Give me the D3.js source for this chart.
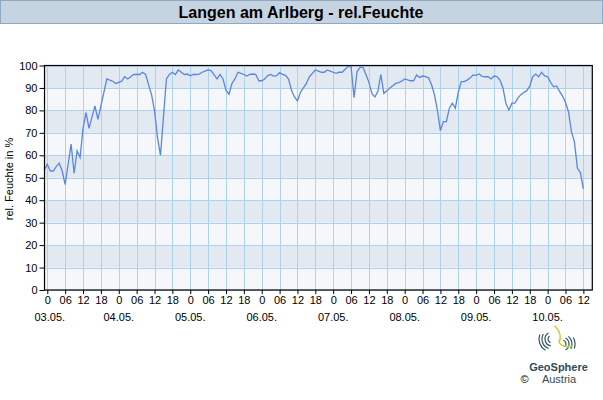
<!DOCTYPE html>
<html><head><meta charset="utf-8">
<script src="https://cdn.jsdelivr.net/npm/d3@7"></script>
<style>body{margin:0;background:#fff;}svg{display:block;font-family:Arial,"Liberation Sans",sans-serif;}</style>
</head><body>
<svg id="c" width="603" height="400"></svg>
<script>
const title = "Langen am Arlberg - rel.Feuchte";
const yLabel = "rel. Feuchte in %";
// hourly relative humidity, first value at 02.05. 23:00 (hour -1)
const startHour = -1;
const humidity = [
 53.5,56,53,53,55,56.5,53,47,56,65,52,62,59,72,79,72,77,82,76,82,88,94,93.5,93,92,
 92.5,93,95,94,95,96,96,96,97,96,91.5,87,80,68,60,77,94,96,97,96,98,97,96,96.2,
 95.4,96,96,96.2,97,97.5,98,97.7,95.8,94,96,94,89,87.2,92,94,97,96.5,96,95.3,96,96.2,96,93.2,
 93.2,94,95.5,96,95.3,95.5,96.8,96,95.6,94,89,86,84.2,88,90,92,95,96.5,98,97.5,97,97,98,97.5,
 97,96.5,97,97,98.3,99.5,99.6,85.7,97.2,99.2,99.2,96,92.5,87.5,86,88.5,96,87.6,88.8,90,91,92,92.4,93,
 94,93.6,93.2,93.2,95.8,94.7,95.3,95,94.5,91.5,87,80,71,75,75,81,83.2,81,88,92.8,92.8,93.5,94.5,95.8,
 95.6,96.2,95.2,95,95,94,95.3,95.1,93.5,90,83,80.2,83.2,83.2,85.5,87,88,88.8,90.8,95,96.2,95,97,95.4,
 95,92.5,90.5,90.9,88.5,86.5,83.5,79.4,70.5,66,54.2,52.3,45
];
const tickHours = d3.range(0, 181, 6);
const hourLabels = ["0","06","12","18"];
const dayLabels = ["03.05.","04.05.","05.05.","06.05.","07.05.","08.05.","09.05.","10.05."];
const yTicks = d3.range(0, 101, 10);

const svg = d3.select("#c");
const L = 44.5, R = 592.3, T = 65.5, B = 290;
const x = d3.scaleLinear().domain([-0.94, 183]).range([L, R]);
const y = d3.scaleLinear().domain([0, 100]).range([B, T]);

// title bar
svg.append("rect").attr("x",0.5).attr("y",0.5).attr("width",602).attr("height",23)
  .attr("fill","#c6d4e1").attr("stroke","#8fa9c3");
svg.append("text").attr("x",301).attr("y",18).attr("text-anchor","middle")
  .attr("font-size",16).attr("font-weight","bold").attr("fill","#000").text(title);

// bands
d3.range(0,100,10).forEach(v=>{
  svg.append("rect").attr("x",L).attr("width",R-L)
    .attr("y",y(v+10)).attr("height",y(v)-y(v+10))
    .attr("fill",(v/10)%2===1 ? "#e3e9f1" : "#f5f7fa");
});
// grid
const g = svg.append("g").attr("stroke","#abd2ef").attr("stroke-width",1);
yTicks.forEach(v=>{ g.append("line").attr("x1",L).attr("x2",R).attr("y1",Math.round(y(v))+0.5).attr("y2",Math.round(y(v))+0.5); });
tickHours.forEach(h=>{ g.append("line").attr("y1",T).attr("y2",B).attr("x1",Math.round(x(h))+0.5).attr("x2",Math.round(x(h))+0.5); });

// line
const pts = humidity.map((v,i)=>[startHour+i, v]);
svg.append("path").datum(pts)
  .attr("d", d3.line().x(d=>x(d[0])).y(d=>y(d[1])))
  .attr("fill","none").attr("stroke","#5a86e3").attr("stroke-width",1.3);

// frame
svg.append("rect").attr("x",L).attr("y",T).attr("width",R-L).attr("height",B-T)
  .attr("fill","none").attr("stroke","#000").attr("stroke-width",1.2);

// y axis
const yAxis = d3.axisLeft(y).tickValues(yTicks).tickSize(5).tickPadding(2).tickFormat(d3.format("d"));
const ya = svg.append("g").attr("transform",`translate(${L},0)`).call(yAxis);
ya.select(".domain").remove();
ya.selectAll("text").attr("font-size",11).attr("fill","#000").attr("font-family","Arial, 'Liberation Sans', sans-serif");
ya.selectAll("line").attr("stroke","#000");

// x axis
const xAxis = d3.axisBottom(x).tickValues(tickHours).tickSize(4).tickPadding(2)
  .tickFormat(h => hourLabels[(h/6)%4]);
const xa = svg.append("g").attr("transform",`translate(0,${B})`).call(xAxis);
xa.select(".domain").remove();
xa.selectAll("text").attr("font-size",11).attr("fill","#000").attr("font-family","Arial, 'Liberation Sans', sans-serif");
xa.selectAll("line").attr("stroke","#000");
dayLabels.forEach((lab,i)=>{
  svg.append("text").attr("x",x(i*24)+(i===0?2.5:0)).attr("y",321).attr("text-anchor","middle")
    .attr("font-size",11).attr("fill","#000").text(lab);
});

// y title
svg.append("text").attr("transform","translate(13,179) rotate(-90)").attr("text-anchor","middle")
  .attr("font-size",11).attr("fill","#000").text(yLabel);

// logo (approximate emblem of curved contour lines)
const lg = svg.append("g").attr("fill","none").attr("stroke-linecap","round").attr("stroke","#2f5563").attr("stroke-width",1.2);
const cx=557, cy=341;
const arc = d3.arc();
[[4,200,320],[7,190,330],[10,200,300],[13,210,290],[4,20,140],[7,30,150],[10,40,120],[13,60,110]].forEach(a=>{
  const ox = a[1] > 180 ? -5 : 5, oy = a[1] > 180 ? -2 : 3;
  lg.append("path").attr("transform",`translate(${cx+ox},${cy+oy})`)
    .attr("d", arc({innerRadius:a[0],outerRadius:a[0],startAngle:a[1]*Math.PI/180,endAngle:a[2]*Math.PI/180}));
});
lg.append("path").attr("d",`M${cx-2},${cy-15} Q${cx+6},${cy-6} ${cx+2},${cy+1} Q${cx+5},${cy+7} ${cx+15},${cy+5}`)
  .attr("stroke","#c4d23c").attr("stroke-width",1.6);
svg.append("text").attr("x",558.5).attr("y",371).attr("text-anchor","middle")
  .attr("font-size",11).attr("font-weight","bold").attr("fill","#2c4d59").text("GeoSphere");
svg.append("text").attr("x",559).attr("y",383).attr("text-anchor","middle")
  .attr("font-size",11).attr("fill","#2c4d59").text("Austria");
svg.append("text").attr("x",524.5).attr("y",383).attr("text-anchor","middle")
  .attr("font-size",11).attr("fill","#000").text("©");
</script>
</body></html>
